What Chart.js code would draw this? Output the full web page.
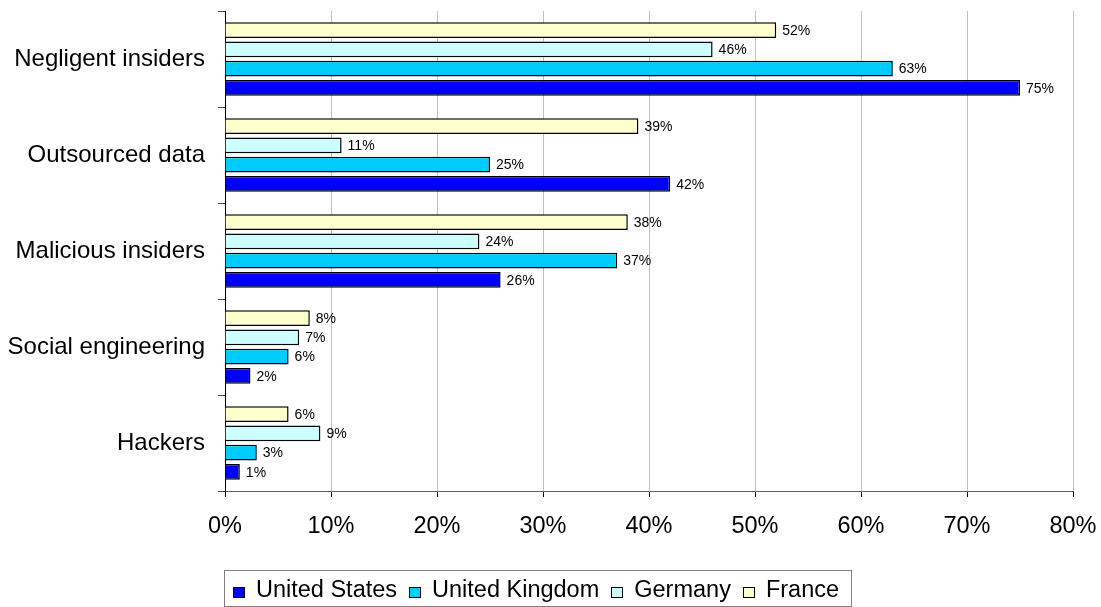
<!DOCTYPE html>
<html>
<head>
<meta charset="utf-8">
<script src="https://cdn.jsdelivr.net/npm/chart.js@4/dist/chart.umd.min.js"></script>
<style>
html,body{margin:0;padding:0;background:#fff;}
#wrap{width:1101px;height:607px;position:relative;}
</style>
</head>
<body>
<div id="wrap"><canvas id="c" width="1101" height="607"></canvas></div>
<script>
const categories = ["Negligent insiders", "Outsourced data", "Malicious insiders", "Social engineering", "Hackers"];
const france  = [52, 39, 38, 8, 6];
const germany = [46, 11, 24, 7, 9];
const uk      = [63, 25, 37, 6, 3];
const us      = [75, 42, 26, 2.4, 1.4];
const xTicks  = [0, 10, 20, 30, 40, 50, 60, 70, 80];

const FONT = '"Liberation Sans", Arial, sans-serif';

const dataLabels = {
  id: 'dataLabels',
  afterDatasetsDraw(chart) {
    const ctx = chart.ctx;
    ctx.save();
    ctx.font = '14px ' + FONT;
    ctx.fillStyle = '#000';
    ctx.textAlign = 'left';
    ctx.textBaseline = 'middle';
    chart.data.datasets.forEach((ds, i) => {
      const meta = chart.getDatasetMeta(i);
      meta.data.forEach((bar, j) => {
        ctx.fillText(Math.round(ds.data[j]) + '%', bar.x + 6, bar.y + 1);
      });
    });
    ctx.restore();
  }
};

const boxLegend = {
  id: 'boxLegend',
  afterDraw(chart) {
    const ctx = chart.ctx;
    ctx.save();
    ctx.font = '23.5px ' + FONT;
    const items = chart.data.datasets.slice().reverse();
    const box = 11, gapText = 12, itemGap = 12;
    let total = 0;
    items.forEach((d, i) => {
      total += box + gapText + ctx.measureText(d.label).width + (i < items.length - 1 ? itemGap : 0);
    });
    const cx = 536;
    const startX = cx - total / 2;
    const boxL = startX - 9, boxR = startX + total + 12;
    const top = 570, bottom = 606, cy = 591;
    ctx.strokeStyle = '#808080';
    ctx.lineWidth = 1;
    ctx.strokeRect(Math.round(boxL) + 0.5, top + 0.5, Math.round(boxR - boxL), bottom - top);
    let x = startX;
    ctx.textBaseline = 'middle';
    ctx.textAlign = 'left';
    items.forEach((d) => {
      ctx.fillStyle = d.backgroundColor;
      ctx.fillRect(Math.round(x), cy - 4, box, 11);
      ctx.strokeStyle = '#000';
      ctx.lineWidth = 1;
      ctx.strokeRect(Math.round(x) + 0.5, cy - 4 + 0.5, box, 10);
      x += box + gapText;
      ctx.fillStyle = '#000';
      ctx.fillText(d.label, x, cy);
      x += ctx.measureText(d.label).width + itemGap;
    });
    ctx.restore();
  }
};

new Chart(document.getElementById('c'), {
  type: 'bar',
  data: {
    labels: categories,
    datasets: [
      { label: 'France', data: france, backgroundColor: '#FFFFCC', borderColor: '#000', borderWidth: 1.5 },
      { label: 'Germany', data: germany, backgroundColor: '#CCFFFF', borderColor: '#000', borderWidth: 1.5 },
      { label: 'United Kingdom', data: uk, backgroundColor: '#00CCFF', borderColor: '#000', borderWidth: 1.5 },
      { label: 'United States', data: us, backgroundColor: '#0000FF', borderColor: '#000', borderWidth: 1.5 }
    ]
  },
  options: {
    indexAxis: 'y',
    responsive: false,
    animation: false,
    devicePixelRatio: 1,
    layout: { padding: { top: 11, left: 0, right: 0, bottom: 66 } },
    datasets: { bar: { categoryPercentage: 0.8, barPercentage: 0.82 } },
    plugins: { legend: { display: false }, tooltip: { enabled: false } },
    scales: {
      x: {
        min: 0, max: 80,
        afterBuildTicks(scale) { scale.ticks = xTicks.map(v => ({ value: v })); },
        afterFit(scale) { scale.paddingRight = 28; scale.paddingLeft = 0; scale.height = 50; },
        ticks: {
          font: { family: FONT, size: 23.5 },
          color: '#000',
          padding: 15,
          callback: (v) => v + '%'
        },
        grid: { color: '#C0C0C0', lineWidth: 1, tickLength: 6, tickColor: '#000' },
        border: { color: '#606060', width: 1 }
      },
      y: {
        afterFit(scale) { scale.width = 225; scale.paddingTop = 0; scale.paddingBottom = 0; },
        ticks: { font: { family: FONT, size: 24 }, color: '#000', padding: 13 },
        grid: { offset: true, drawOnChartArea: false, tickLength: 7, tickColor: '#404040' },
        border: { color: '#000', width: 1 }
      }
    }
  },
  plugins: [dataLabels, boxLegend]
});
</script>
</body>
</html>
